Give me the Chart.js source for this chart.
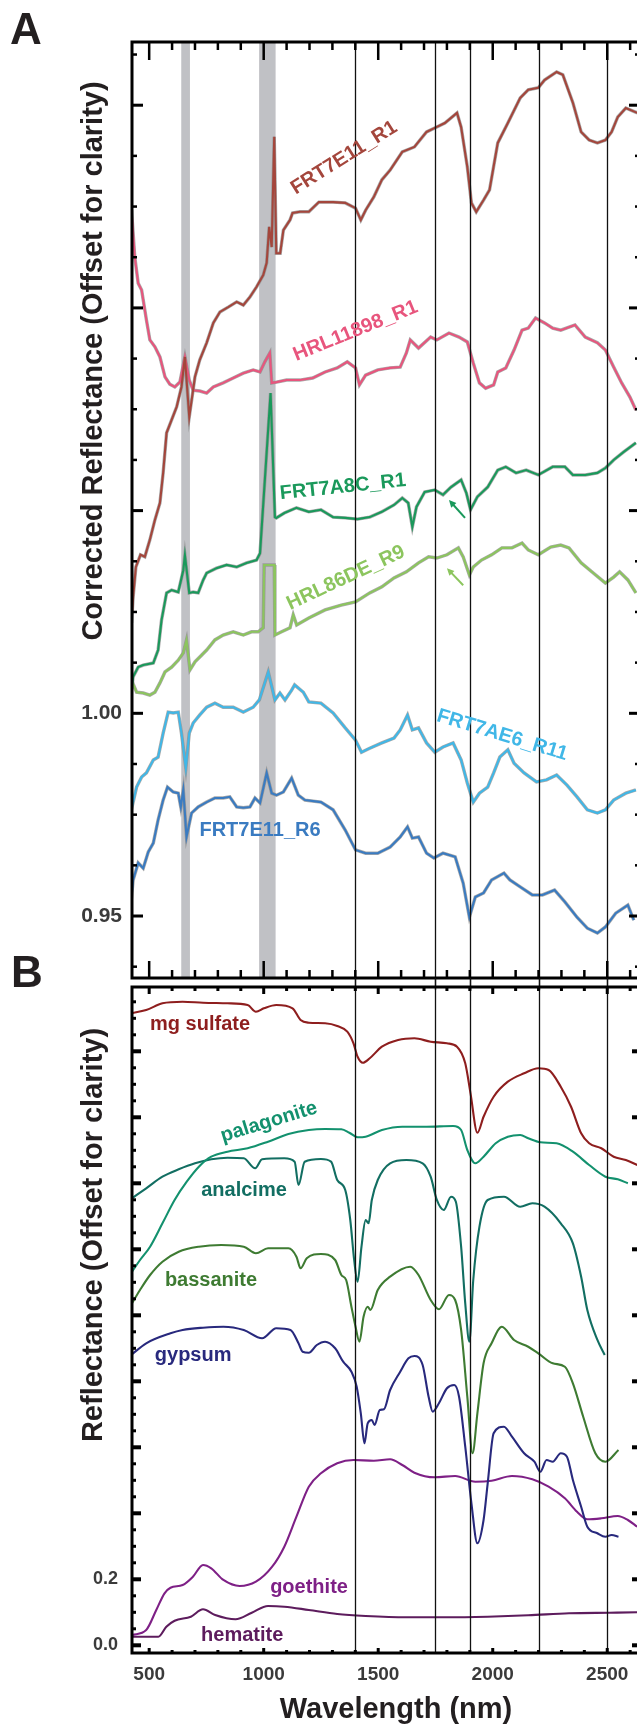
<!DOCTYPE html>
<html>
<head>
<meta charset="utf-8">
<script src="https://cdn.jsdelivr.net/npm/chart.js@4.4.1/dist/chart.umd.min.js"></script>
<style>
  html, body { margin: 0; padding: 0; background: #fff; overflow: hidden; }
  #wrap { position: relative; width: 637px; height: 1726px; overflow: hidden; }
  canvas { position: absolute; left: 0; }
</style>
</head>
<body>
<div id="wrap">
  <canvas id="chartA" width="641" height="990" style="top:0"></canvas>
  <canvas id="chartB" width="641" height="786" style="top:940px"></canvas>
</div>
<script>
// ---- axes / reference marks ----
const wavelengthMin = 425, wavelengthMax = 2643;
const markerLines = [1400, 1750, 1900, 2200, 2500];
const shadedBands = [[640, 678], [980, 1052]];
const xTickLabels = [500, 1000, 1500, 2000, 2500];
const aTickLabels = [0.95, 1.00];
const bTickLabels = [0.0, 0.2];

// ---- panel A: CRISM spectra (wavelength nm, corrected reflectance) ----
const frt7e11R1 = [[423,1.0223],[430,1.0287],[442,1.0361],[462,1.0391],[481,1.0386],[503,1.0428],[525,1.0477],[547,1.0519],[561,1.0593],[576,1.0692],[598,1.0724],[620,1.0756],[641,1.0805],[656,1.0879],[675,1.0731],[700,1.0830],[721,1.0872],[751,1.0914],[780,1.0963],[809,1.0990],[845,1.1002],[882,1.1015],[911,1.1007],[940,1.1027],[969,1.1052],[998,1.1081],[1013,1.1111],[1024,1.1200],[1035,1.1150],[1046,1.1422],[1055,1.1135],[1072,1.1135],[1086,1.1192],[1115,1.1217],[1126,1.1234],[1158,1.1237],[1197,1.1237],[1241,1.1261],[1303,1.1261],[1356,1.1259],[1401,1.1246],[1424,1.1217],[1445,1.1241],[1481,1.1274],[1516,1.1316],[1552,1.1340],[1605,1.1385],[1658,1.1397],[1711,1.1434],[1747,1.1444],[1791,1.1456],[1844,1.1481],[1862,1.1446],[1889,1.1348],[1907,1.1259],[1928,1.1237],[1960,1.1266],[1986,1.1291],[2022,1.1407],[2066,1.1456],[2120,1.1518],[2155,1.1538],[2199,1.1543],[2226,1.1562],[2279,1.1582],[2306,1.1575],[2350,1.1506],[2386,1.1434],[2421,1.1414],[2457,1.1407],[2492,1.1414],[2519,1.1434],[2546,1.1471],[2581,1.1493],[2631,1.1481]];
const hrl11898R1 = [[423,1.1241],[437,1.1126],[452,1.1061],[467,1.1044],[488,1.0970],[503,1.0921],[525,1.0904],[547,1.0879],[569,1.0830],[590,1.0812],[612,1.0805],[634,1.0817],[656,1.0879],[675,1.0822],[692,1.0797],[721,1.0795],[751,1.0790],[780,1.0805],[823,1.0815],[867,1.0827],[911,1.0839],[954,1.0847],[984,1.0842],[1005,1.0867],[1027,1.0889],[1035,1.0815],[1056,1.0817],[1100,1.0822],[1126,1.0822],[1158,1.0822],[1214,1.0827],[1268,1.0842],[1321,1.0852],[1365,1.0867],[1401,1.0852],[1418,1.0810],[1445,1.0834],[1498,1.0847],[1552,1.0852],[1596,1.0854],[1623,1.0889],[1640,1.0921],[1676,1.0901],[1729,1.0928],[1756,1.0921],[1809,1.0938],[1853,1.0928],[1889,1.0916],[1915,1.0864],[1942,1.0815],[1969,1.0802],[2004,1.0810],[2022,1.0842],[2057,1.0852],[2093,1.0896],[2128,1.0945],[2155,1.0950],[2187,1.0975],[2226,1.0963],[2262,1.0950],[2297,1.0945],[2359,1.0958],[2404,1.0928],[2457,1.0914],[2492,1.0896],[2528,1.0854],[2563,1.0815],[2599,1.0780],[2625,1.0748]];
const frt7a8cR1 = [[419,1.0040],[430,1.0090],[452,1.0114],[474,1.0119],[518,1.0124],[539,1.0156],[554,1.0230],[576,1.0297],[598,1.0304],[627,1.0299],[649,1.0353],[656,1.0390],[675,1.0297],[692,1.0299],[714,1.0297],[736,1.0329],[751,1.0346],[794,1.0358],[838,1.0366],[882,1.0361],[925,1.0371],[969,1.0378],[984,1.0395],[1030,1.0790],[1049,1.0484],[1055,1.0482],[1090,1.0494],[1143,1.0507],[1197,1.0497],[1250,1.0502],[1303,1.0484],[1356,1.0482],[1410,1.0479],[1463,1.0484],[1516,1.0497],[1569,1.0514],[1605,1.0531],[1631,1.0519],[1649,1.0460],[1667,1.0509],[1703,1.0546],[1747,1.0551],[1783,1.0539],[1818,1.0558],[1862,1.0576],[1885,1.0543],[1903,1.0502],[1933,1.0534],[1978,1.0558],[2022,1.0600],[2057,1.0608],[2102,1.0593],[2146,1.0600],[2199,1.0588],[2262,1.0608],[2315,1.0608],[2350,1.0588],[2404,1.0588],[2457,1.0593],[2492,1.0605],[2528,1.0625],[2572,1.0645],[2625,1.0667]];
const hrl86deR9 = [[423,1.0082],[445,1.0052],[474,1.0050],[503,1.0045],[525,1.0052],[547,1.0075],[569,1.0102],[598,1.0114],[627,1.0131],[649,1.0149],[663,1.0181],[678,1.0107],[700,1.0127],[721,1.0139],[751,1.0156],[787,1.0181],[823,1.0193],[867,1.0201],[911,1.0193],[947,1.0201],[976,1.0201],[998,1.0211],[1002,1.0366],[1046,1.0366],[1049,1.0193],[1078,1.0201],[1115,1.0211],[1129,1.0243],[1144,1.0218],[1197,1.0235],[1268,1.0255],[1339,1.0267],[1401,1.0275],[1463,1.0297],[1516,1.0312],[1569,1.0334],[1623,1.0349],[1676,1.0371],[1720,1.0386],[1756,1.0383],[1800,1.0391],[1850,1.0408],[1871,1.0386],[1898,1.0341],[1915,1.0361],[1951,1.0378],[1995,1.0391],[2040,1.0408],[2084,1.0408],[2128,1.0420],[2155,1.0403],[2199,1.0391],[2253,1.0410],[2297,1.0415],[2333,1.0408],[2386,1.0371],[2439,1.0346],[2492,1.0321],[2528,1.0336],[2554,1.0349],[2590,1.0329],[2625,1.0297]];
const frt7ae6R11 = [[419,0.9754],[430,0.9781],[445,0.9818],[467,0.9843],[488,0.9853],[518,0.9885],[539,0.9892],[561,0.9951],[583,1.0003],[605,1.0001],[627,1.0003],[641,0.9951],[660,0.9865],[675,0.9951],[692,0.9976],[721,0.9996],[751,1.0015],[787,1.0025],[823,1.0015],[867,1.0015],[911,1.0003],[954,1.0015],[981,1.0033],[1020,1.0102],[1049,1.0033],[1071,1.0050],[1093,1.0033],[1122,1.0057],[1135,1.0070],[1173,1.0052],[1197,1.0028],[1250,1.0025],[1303,1.0001],[1356,0.9964],[1401,0.9934],[1427,0.9904],[1463,0.9914],[1516,0.9927],[1569,0.9939],[1596,0.9959],[1628,0.9996],[1649,0.9959],[1676,0.9964],[1711,0.9927],[1747,0.9904],[1783,0.9917],[1827,0.9927],[1862,0.9885],[1889,0.9828],[1915,0.9781],[1942,0.9803],[1978,0.9818],[2004,0.9853],[2031,0.9892],[2066,0.9910],[2093,0.9877],[2137,0.9853],[2191,0.9831],[2235,0.9836],[2279,0.9848],[2324,0.9823],[2368,0.9794],[2413,0.9762],[2457,0.9754],[2492,0.9762],[2528,0.9786],[2581,0.9803],[2625,0.9811]];
const frt7e11R6 = [[419,0.9522],[430,0.9589],[452,0.9631],[474,0.9618],[496,0.9658],[518,0.9680],[539,0.9737],[561,0.9786],[580,0.9818],[605,0.9806],[627,0.9803],[638,0.9769],[649,0.9811],[663,0.9695],[685,0.9754],[714,0.9769],[751,0.9781],[787,0.9791],[823,0.9791],[852,0.9794],[882,0.9769],[911,0.9767],[940,0.9769],[962,0.9791],[984,0.9779],[1013,0.9853],[1035,0.9803],[1056,0.9798],[1086,0.9806],[1122,0.9840],[1151,0.9798],[1180,0.9786],[1250,0.9781],[1303,0.9762],[1356,0.9712],[1401,0.9663],[1445,0.9655],[1498,0.9655],[1552,0.9670],[1596,0.9695],[1628,0.9720],[1649,0.9692],[1676,0.9695],[1711,0.9655],[1743,0.9643],[1783,0.9655],[1836,0.9646],[1871,0.9581],[1898,0.9497],[1924,0.9547],[1960,0.9557],[1995,0.9589],[2049,0.9606],[2075,0.9589],[2120,0.9572],[2173,0.9552],[2217,0.9552],[2270,0.9564],[2315,0.9535],[2368,0.9497],[2413,0.9470],[2457,0.9458],[2492,0.9473],[2537,0.9507],[2590,0.9527],[2616,0.9490]];

// ---- panel B: library spectra (wavelength nm, reflectance offset) ----
const mgSulfate = [[421,1.9152],[487,1.9252],[558,1.9455],[646,1.9503],[735,1.9473],[842,1.9455],[930,1.9403],[966,1.9200],[1001,1.9303],[1055,1.9403],[1126,1.9303],[1161,1.8948],[1197,1.8867],[1268,1.8848],[1321,1.8767],[1365,1.8594],[1392,1.8242],[1410,1.7836],[1433,1.7655],[1463,1.7788],[1516,1.8139],[1587,1.8342],[1658,1.8394],[1729,1.8291],[1800,1.8242],[1844,1.8139],[1880,1.7636],[1903,1.6727],[1933,1.5533],[1960,1.6018],[2004,1.6624],[2066,1.7079],[2137,1.7333],[2199,1.7485],[2244,1.7433],[2297,1.6927],[2342,1.6321],[2386,1.5515],[2421,1.5212],[2474,1.5061],[2528,1.4806],[2581,1.4706],[2631,1.4555]];
const palagonite = [[425,1.1321],[460,1.1676],[504,1.2079],[558,1.2788],[611,1.3494],[664,1.4048],[717,1.4503],[771,1.4806],[842,1.4958],[930,1.5061],[1019,1.5261],[1108,1.5494],[1197,1.5615],[1268,1.5645],[1339,1.5636],[1374,1.5533],[1410,1.5394],[1445,1.5412],[1516,1.5615],[1605,1.5715],[1711,1.5715],[1827,1.5736],[1862,1.5615],[1889,1.5009],[1924,1.4606],[1960,1.4806],[2013,1.5212],[2066,1.5412],[2120,1.5464],[2155,1.5364],[2208,1.5242],[2279,1.5212],[2350,1.4958],[2421,1.4555],[2492,1.4200],[2546,1.4121],[2590,1.4000]];
const analcime = [[425,1.3545],[487,1.3848],[558,1.4200],[629,1.4424],[700,1.4606],[771,1.4727],[842,1.4776],[913,1.4758],[963,1.4455],[993,1.4727],[1090,1.4758],[1135,1.4655],[1152,1.3948],[1179,1.4655],[1250,1.4736],[1294,1.4655],[1321,1.4100],[1356,1.3797],[1378,1.2888],[1395,1.1676],[1410,1.1018],[1427,1.2079],[1445,1.2888],[1458,1.2788],[1472,1.3494],[1498,1.4100],[1552,1.4606],[1623,1.4706],[1694,1.4606],[1729,1.4200],[1756,1.3494],[1786,1.3191],[1818,1.3594],[1839,1.3442],[1862,1.2079],[1880,1.0364],[1898,0.9200],[1915,1.1070],[1942,1.2685],[1978,1.3494],[2049,1.3594],[2120,1.3291],[2173,1.3394],[2226,1.3291],[2297,1.2788],[2350,1.2182],[2386,1.1170],[2413,1.0161],[2457,0.9252],[2489,0.8797]];
const bassanite = [[425,1.0364],[460,1.0767],[504,1.1221],[558,1.1624],[629,1.1927],[717,1.2079],[815,1.2130],[913,1.2079],[966,1.1879],[1019,1.2030],[1108,1.2030],[1143,1.1776],[1161,1.1424],[1188,1.1727],[1250,1.1858],[1312,1.1676],[1339,1.1221],[1360,1.1070],[1383,1.0261],[1401,0.9655],[1418,0.9200],[1436,0.9958],[1454,1.0261],[1466,1.0161],[1498,1.0767],[1552,1.1170],[1640,1.1473],[1676,1.1221],[1729,1.0464],[1765,1.0182],[1809,1.0615],[1836,1.0464],[1862,0.9555],[1889,0.7533],[1912,0.5818],[1933,0.7030],[1960,0.8545],[1995,0.9152],[2040,0.9655],[2093,0.9252],[2155,0.9048],[2199,0.8848],[2262,0.8545],[2315,0.8442],[2350,0.7939],[2395,0.6927],[2448,0.5818],[2492,0.5564],[2549,0.5918]];
const gypsum = [[421,0.8797],[487,0.9152],[593,0.9455],[646,0.9555],[735,0.9624],[824,0.9655],[913,0.9555],[993,0.9303],[1055,0.9606],[1117,0.9555],[1152,0.9152],[1170,0.8897],[1197,0.8867],[1232,0.9100],[1268,0.9200],[1312,0.9000],[1347,0.8594],[1383,0.8291],[1406,0.7836],[1424,0.7030],[1440,0.6121],[1454,0.6727],[1472,0.6827],[1484,0.6676],[1507,0.7130],[1525,0.7152],[1552,0.7736],[1596,0.8291],[1632,0.8697],[1658,0.8767],[1694,0.8494],[1720,0.7533],[1738,0.7079],[1765,0.7333],[1800,0.7788],[1832,0.7888],[1853,0.7533],[1880,0.6018],[1907,0.4303],[1933,0.3091],[1960,0.3797],[1978,0.4909],[2004,0.6424],[2049,0.6624],[2084,0.6321],[2137,0.5818],[2182,0.5564],[2208,0.5261],[2235,0.5615],[2262,0.5564],[2297,0.5818],[2324,0.5715],[2350,0.5009],[2386,0.4200],[2413,0.3594],[2457,0.3394],[2492,0.3291],[2519,0.3342],[2549,0.3291]];
const goethite = [[425,0.0312],[487,0.0464],[531,0.1070],[567,0.1576],[593,0.1745],[646,0.1827],[691,0.2079],[735,0.2433],[771,0.2333],[824,0.1979],[895,0.1797],[966,0.1927],[1037,0.2382],[1090,0.2988],[1143,0.3897],[1197,0.4806],[1250,0.5212],[1321,0.5515],[1392,0.5615],[1481,0.5594],[1552,0.5636],[1605,0.5464],[1658,0.5230],[1747,0.5091],[1836,0.5130],[1924,0.4958],[1995,0.4988],[2084,0.5130],[2173,0.5030],[2244,0.4806],[2315,0.4455],[2368,0.4048],[2413,0.3818],[2474,0.3848],[2546,0.3918],[2590,0.3797],[2631,0.3594]];
const hematite = [[425,0.0261],[540,0.0261],[575,0.0564],[611,0.0745],[682,0.0867],[735,0.1091],[788,0.0918],[877,0.0788],[948,0.0988],[1019,0.1191],[1090,0.1170],[1197,0.1070],[1321,0.0948],[1445,0.0888],[1623,0.0848],[1800,0.0848],[1978,0.0867],[2155,0.0909],[2333,0.0970],[2510,0.0988],[2631,0.1000]];

const FONT = "'Liberation Sans', Arial, Helvetica, sans-serif";

// series of panel A, with their label position (data units) and tilt
const seriesA = [
  { name: 'FRT7E11_R1',  data: frt7e11R1,  color: '#a4463c', at: [1351, 1.1370], angle: -32 },
  { name: 'HRL11898_R1', data: hrl11898R1, color: '#e8557d', at: [1401, 1.0943], angle: -22 },
  { name: 'FRT7A8C_R1',  data: frt7a8cR1,  color: '#1a995b', at: [1346, 1.0558], angle: -6 },
  { name: 'HRL86DE_R9',  data: hrl86deR9,  color: '#8cc55e', at: [1359, 1.0334], angle: -25 },
  { name: 'FRT7AE6_R11', data: frt7ae6R11, color: '#40b7e7', at: [2041, 0.9946], angle: 17 },
  { name: 'FRT7E11_R6',  data: frt7e11R6,  color: '#3a7bc1', at: [984, 0.9712],  angle: 0 }
];
const seriesB = [
  { name: 'mg sulfate', data: mgSulfate,  color: '#8e1e1e', at: [722, 1.8827],  angle: 0 },
  { name: 'palagonite', data: palagonite, color: '#13916e', at: [1023, 1.5858], angle: -17 },
  { name: 'analcime',   data: analcime,   color: '#126e62', at: [914, 1.3797],  angle: 0 },
  { name: 'bassanite',  data: bassanite,  color: '#3e7b32', at: [770, 1.1070],  angle: 0 },
  { name: 'gypsum',     data: gypsum,     color: '#28297d', at: [692, 0.8797],  angle: 0 },
  { name: 'goethite',   data: goethite,   color: '#7e2086', at: [1198, 0.1767], angle: 0 },
  { name: 'hematite',   data: hematite,   color: '#5d1c5d', at: [906, 0.0312],  angle: 0 }
];

// frame, inward ticks, marker lines, bands, labels and titles
const panelDecor = {
  id: 'panelDecor',
  beforeDatasetsDraw(chart, args, o) {
    const { ctx, chartArea: a, scales: { x } } = chart;
    ctx.save();
    ctx.fillStyle = '#c0c1c5';
    (o.bands || []).forEach(b => {
      const p0 = x.getPixelForValue(b[0]), p1 = x.getPixelForValue(b[1]);
      ctx.fillRect(p0, a.top, p1 - p0, a.bottom - a.top);
    });
    ctx.restore();
  },
  afterDatasetsDraw(chart, args, o) {
    const { ctx, chartArea: a, scales: { x, y } } = chart;
    ctx.save();

    // vertical reference lines
    ctx.strokeStyle = '#111';
    ctx.lineWidth = 1.3;
    markerLines.forEach(w => {
      const px = Math.round(x.getPixelForValue(w)) + 0.5;
      ctx.beginPath();
      ctx.moveTo(px, a.top - o.lineUp);
      ctx.lineTo(px, a.bottom + o.lineDown);
      ctx.stroke();
    });

    // frame
    ctx.strokeStyle = '#000';
    ctx.lineWidth = 3;
    ctx.strokeRect(a.left, a.top, a.right - a.left, a.bottom - a.top);

    // ticks pointing inward
    ctx.fillStyle = '#000';
    const t = o.ticks;
    const isMajor = (v, step) => Math.abs(v / step - Math.round(v / step)) < 1e-6;
    for (let i = Math.ceil(x.min / t.xMinor); i * t.xMinor <= x.max; i++) {
      const v = i * t.xMinor, px = x.getPixelForValue(v);
      const maj = isMajor(v, t.xMajor);
      const w = maj ? t.xMajW : t.xMinW;
      ctx.fillRect(px - w / 2, a.top, w, maj ? t.xTopMaj : t.xTopMin);
      const lb = maj ? t.xBotMaj : t.xBotMin;
      ctx.fillRect(px - w / 2, a.bottom - lb, w, lb);
    }
    for (let i = Math.ceil(y.min / t.yMinor - 1e-9); i * t.yMinor <= y.max + 1e-9; i++) {
      const v = i * t.yMinor, py = y.getPixelForValue(v);
      if (py < a.top + 2 || py > a.bottom - 2) continue;
      const maj = isMajor(v, t.yMajor);
      const h = maj ? t.yMajW : t.yMinW;
      const len = maj ? t.yMaj : t.yMin;
      const rlen = maj ? t.yRMaj : t.yRMin;
      ctx.fillRect(a.left, py - h / 2, len, h);
      ctx.fillRect(a.right - rlen, py - h / 2, rlen, h);
    }

    // arrows
    (o.arrows || []).forEach(ar => {
      const x0 = x.getPixelForValue(ar.from[0]), y0 = y.getPixelForValue(ar.from[1]);
      const x1 = x.getPixelForValue(ar.to[0]), y1 = y.getPixelForValue(ar.to[1]);
      const ang = Math.atan2(y1 - y0, x1 - x0);
      ctx.strokeStyle = ar.color;
      ctx.fillStyle = ar.color;
      ctx.lineWidth = 2;
      ctx.beginPath();
      ctx.moveTo(x0, y0);
      ctx.lineTo(x1 - 4 * Math.cos(ang), y1 - 4 * Math.sin(ang));
      ctx.stroke();
      ctx.beginPath();
      ctx.moveTo(x1, y1);
      ctx.lineTo(x1 - 8 * Math.cos(ang - 0.45), y1 - 8 * Math.sin(ang - 0.45));
      ctx.lineTo(x1 - 8 * Math.cos(ang + 0.45), y1 - 8 * Math.sin(ang + 0.45));
      ctx.closePath();
      ctx.fill();
    });

    // curve labels
    ctx.font = 'bold 20px ' + FONT;
    ctx.textAlign = 'center';
    ctx.textBaseline = 'middle';
    o.series.forEach(s => {
      ctx.save();
      ctx.translate(x.getPixelForValue(s.at[0]), y.getPixelForValue(s.at[1]));
      ctx.rotate(s.angle * Math.PI / 180);
      ctx.fillStyle = s.color;
      ctx.fillText(s.name, 0, 0);
      ctx.restore();
    });
    ctx.restore();
  },
  afterDraw(chart, args, o) {
    const ctx = chart.ctx;
    (o.titles || []).forEach(tt => {
      ctx.save();
      ctx.translate(tt.x, tt.y);
      ctx.rotate((tt.rot || 0) * Math.PI / 180);
      ctx.font = 'bold ' + tt.size + 'px ' + FONT;
      ctx.fillStyle = tt.color || '#231f20';
      ctx.textAlign = tt.align || 'center';
      ctx.textBaseline = tt.baseline || 'middle';
      ctx.fillText(tt.text, 0, 0);
      ctx.restore();
    });
  }
};

function lineSets(series, halo, smooth) {
  const out = [];
  series.forEach(s => {
    out.push({
      data: s.data, borderColor: s.color, borderWidth: 2.1, pointRadius: 0,
      tension: 0, cubicInterpolationMode: smooth ? 'monotone' : 'default', order: 0
    });
    if (halo) {
      // grey unsmoothed spectrum sitting under each coloured trace
      out.push({
        data: s.data, borderColor: 'rgba(140,140,140,0.75)', borderWidth: 3.4,
        pointRadius: 0, tension: 0, order: 1
      });
    }
  });
  return out;
}

function scales(yMin, yMax, yTicks, yDigits, yFont, yPad, showX, xHeight) {
  return {
    x: {
      type: 'linear', min: wavelengthMin, max: wavelengthMax,
      grid: { display: false, drawTicks: false }, border: { display: false },
      afterBuildTicks: s => { s.ticks = xTickLabels.map(v => ({ value: v })); },
      ticks: {
        display: showX, padding: 10, color: '#3a3a3a', autoSkip: false, maxRotation: 0,
        font: { family: FONT, size: 19, weight: 'bold' }, callback: v => String(v)
      },
      afterFit: s => { s.height = xHeight; s.paddingLeft = 0; s.paddingRight = 0; }
    },
    y: {
      type: 'linear', min: yMin, max: yMax,
      grid: { display: false, drawTicks: false }, border: { display: false },
      afterBuildTicks: s => { s.ticks = yTicks.map(v => ({ value: v })); },
      ticks: {
        padding: yPad, color: '#3a3a3a', autoSkip: false,
        font: { family: FONT, size: yFont, weight: 'bold' }, callback: v => Number(v).toFixed(yDigits)
      },
      afterFit: s => { s.width = 132; s.paddingTop = 0; s.paddingBottom = 0; }
    }
  };
}

const common = {
  responsive: false, animation: false, events: [],
  plugins: { legend: { display: false }, tooltip: { enabled: false } }
};

new Chart(document.getElementById('chartA'), {
  type: 'line',
  data: { datasets: lineSets(seriesA, true, false) },
  plugins: [panelDecor],
  options: Object.assign({}, common, {
    layout: { autoPadding: false, padding: { top: 42, right: 1, left: 0, bottom: 0 } },
    scales: scales(0.93471, 1.16559, aTickLabels, 2, 21, 10, false, 12),
    plugins: Object.assign({}, common.plugins, {
      panelDecor: {
        bands: shadedBands, lineUp: 0, lineDown: 12, series: seriesA,
        ticks: { xMinor: 100, xMajor: 500, xTopMaj: 18, xTopMin: 8, xBotMaj: 17, xBotMin: 8, xMajW: 2.5, xMinW: 2.5,
                 yMinor: 0.0125, yMajor: 0.05, yMaj: 11, yMin: 5, yRMaj: 11, yRMin: 5, yMajW: 3, yMinW: 2.5 },
        arrows: [
          { from: [1879, 1.0482], to: [1809, 1.0526], color: '#1a995b' },
          { from: [1871, 1.0316], to: [1800, 1.0358], color: '#8cc55e' }
        ],
        titles: [
          { text: 'Corrected Reflectance (Offset for clarity)', x: 94, y: 361, rot: -90, size: 29 },
          { text: 'A', x: 10, y: 44, size: 44, align: 'left', baseline: 'alphabetic' }
        ]
      }
    })
  })
});

new Chart(document.getElementById('chartB'), {
  type: 'line',
  data: { datasets: lineSets(seriesB, false, true) },
  plugins: [panelDecor],
  options: Object.assign({}, common, {
    layout: { autoPadding: false, padding: { top: 47, right: 1, left: 0, bottom: 0 } },
    scales: scales(-0.02333, 1.99485, bTickLabels, 1, 18, 14, true, 73),
    plugins: Object.assign({}, common.plugins, {
      panelDecor: {
        bands: [], lineUp: 9, lineDown: 0, series: seriesB,
        ticks: { xMinor: 100, xMajor: 500, xTopMaj: 7, xTopMin: 4, xBotMaj: 5, xBotMin: 3, xMajW: 3, xMinW: 3,
                 yMinor: 0.05, yMajor: 0.2, yMaj: 9, yMin: 4, yRMaj: 8, yRMin: 3, yMajW: 4, yMinW: 3 },
        arrows: [],
        titles: [
          { text: 'Reflectance (Offset for clarity)', x: 94, y: 295, rot: -90, size: 29 },
          { text: 'Wavelength (nm)', x: 396, y: 770, size: 29 },
          { text: 'B', x: 11, y: 47, size: 44, align: 'left', baseline: 'alphabetic' }
        ]
      }
    })
  })
});
</script>
</body>
</html>
